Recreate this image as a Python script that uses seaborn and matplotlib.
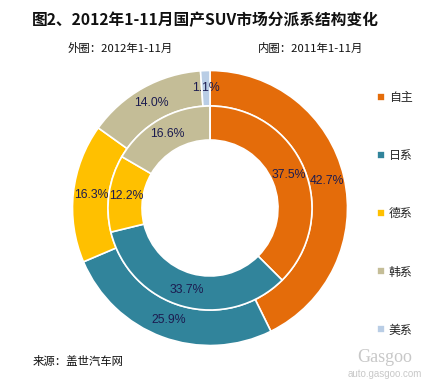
import matplotlib
matplotlib.use("Agg")
import matplotlib.pyplot as plt
import seaborn as sns

# ---- data ----
categories = ["自主", "日系", "德系", "韩系", "美系"]
outer_2012 = [42.7, 25.9, 16.3, 14.0, 1.1]
inner_2011 = [37.5, 33.7, 12.2, 16.6, 0.0]
colors = ["#E46C0A", "#31849B", "#FFC000", "#C4BD97", "#B9CDE5"]
title = "图2、2012年1-11月国产SUV市场分派系结构变化"
outer_note = "外圈：2012年1-11月"
inner_note = "内圈：2011年1-11月"
source = "来源：盖世汽车网"

sns.set_theme(style="white")
plt.rcParams["font.family"] = ["Noto Sans CJK SC", "DejaVu Sans"]

W, H = 431, 381
fig = plt.figure(figsize=(W / 100, H / 100), dpi=100)
fig.patch.set_facecolor("white")

cx, cy, R = 210, 208, 137.5
ax = fig.add_axes([(cx - R) / W, (H - cy - R) / H, 2 * R / W, 2 * R / H])

r_out = 1.0
r_mid = 102 / R
r_hole = 68 / R

def fmt(v):
    return f"{v:.1f}%" if v > 0 else ""

tp = dict(color="#1c1c50", fontsize=8.8, family="Liberation Sans", ha="center", va="center")
wedges_o, texts_o = ax.pie(
    outer_2012, radius=r_out, colors=colors, startangle=90, counterclock=False,
    labels=[fmt(v) for v in outer_2012], labeldistance=(r_out + r_mid) / 2 / r_out,
    wedgeprops=dict(width=r_out - r_mid, edgecolor="white", linewidth=1.2),
    textprops=tp,
)
wedges_i, texts_i = ax.pie(
    inner_2011, radius=r_mid, colors=colors, startangle=90, counterclock=False,
    labels=[fmt(v) for v in inner_2011], labeldistance=(r_mid + r_hole) / 2 / r_mid,
    wedgeprops=dict(width=r_mid - r_hole, edgecolor="white", linewidth=1.2),
    textprops=tp,
)
for t in texts_o + texts_i:
    t.set_ha("center")
    t.set_va("center")
ax.set_xlim(-1, 1)
ax.set_ylim(-1, 1)
ax.set_aspect("equal")
ax.axis("off")

# titles
fig.text(205 / W, 1 - 20 / H, title, ha="center", va="center", fontsize=11.3,
         fontweight="bold", color="#111111")
fig.text(68 / W, 1 - 48 / H, outer_note, ha="left", va="center", fontsize=8.2, color="#111111")
fig.text(258 / W, 1 - 48 / H, inner_note, ha="left", va="center", fontsize=8.2, color="#111111")
fig.text(33 / W, 1 - 362 / H, source, ha="left", va="center", fontsize=8.2, color="#111111")

# legend
leg = fig.legend(wedges_o, categories, loc="upper left",
                 bbox_to_anchor=(377 / W, 1 - 91 / H), frameon=False,
                 fontsize=8.6, labelspacing=3.78, handlelength=0.65, handleheight=0.65,
                 handletextpad=0.35, borderpad=0, borderaxespad=0)

# watermark
fig.text(385 / W, 1 - 358 / H, "Gasgoo", ha="center", va="center", fontsize=13,
         color="#c8c8c8", family="Liberation Serif")
fig.text(385 / W, 1 - 374 / H, "auto.gasgoo.com", ha="center", va="center", fontsize=7,
         color="#c8c8c8", family="Liberation Sans")

fig.savefig("out.png", dpi=100, facecolor="white")
